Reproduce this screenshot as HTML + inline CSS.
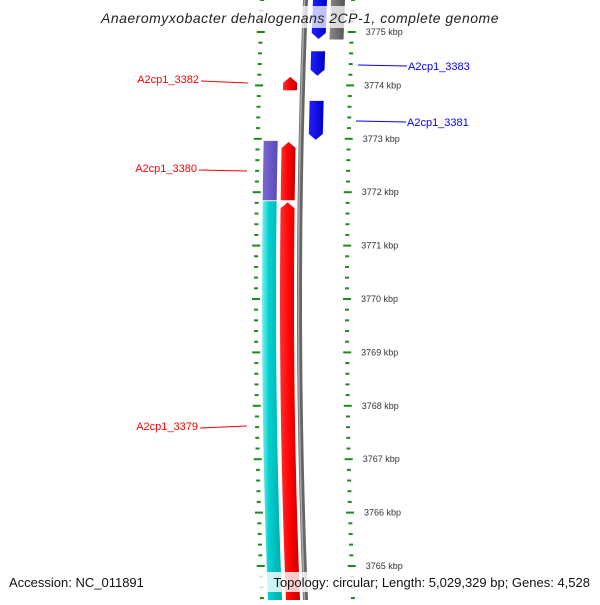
<!DOCTYPE html>
<html><head><meta charset="utf-8"><style>
body{margin:0;background:#fff;width:600px;height:600px;overflow:hidden;font-family:"Liberation Sans",sans-serif}
</style></head><body>
<svg id="map" width="600" height="600" viewBox="0 0 600 600">
<defs>
<linearGradient id="gcyan" x1="0" x2="1" y1="0" y2="0"><stop offset="0" stop-color="#7ff0f0"/><stop offset="0.35" stop-color="#00d0d0"/><stop offset="1" stop-color="#00a8a8"/></linearGradient>
<linearGradient id="gred" x1="0" x2="1" y1="0" y2="0"><stop offset="0" stop-color="#ff3030"/><stop offset="0.5" stop-color="#ff0000"/><stop offset="1" stop-color="#c00000"/></linearGradient>
<linearGradient id="gpurple" x1="0" x2="1"><stop offset="0" stop-color="#7a6ad8"/><stop offset="1" stop-color="#5a4ab8"/></linearGradient>
<linearGradient id="gblue" x1="0" x2="1"><stop offset="0" stop-color="#2020ff"/><stop offset="1" stop-color="#0000c8"/></linearGradient>
<linearGradient id="ggray" x1="0" x2="1"><stop offset="0" stop-color="#888"/><stop offset="1" stop-color="#555"/></linearGradient>
</defs>
<g id="marks"></g>
<g id="labels"></g>
</svg>
<script>
const tickKbp=[3765,3766,3767,3768,3769,3770,3771,3772,3773,3774,3775];
const tickLabels=["3765 kbp","3766 kbp","3767 kbp","3768 kbp","3769 kbp","3770 kbp","3771 kbp","3772 kbp","3773 kbp","3774 kbp","3775 kbp"];
const geneNames=["A2cp1_3380","A2cp1_3379","A2cp1_3380r","A2cp1_3379r","A2cp1_3382","A2cp1_3383a","A2cp1_3383","A2cp1_3381","gray-feature"];
const geneStart=[3772.96,3771.83,3772.94,3771.81,3774.16,3775.7,3774.64,3773.71,3775.62];
const geneEnd=[3771.85,3764.2,3771.85,3764.2,3773.91,3774.87,3774.18,3772.98,3774.86];
const geneTrack=[0,0,1,1,1,2,2,2,3];
const geneStrand=[0,0,1,1,1,-1,-1,-1,0];
const geneFill=["url(#gpurple)","url(#gcyan)","url(#gred)","url(#gred)","url(#gred)","url(#gblue)","url(#gblue)","url(#gblue)","url(#ggray)"];
const trackX=[262,280,307,325];const trackW=14;
const NS="http://www.w3.org/2000/svg";
function yOf(k){return 566-(k-3765)*53.4;}
function off(y){return (y-300)*(y-300)/15000;}
const marks=document.getElementById('marks'),labels=document.getElementById('labels');
function mk(tag,at,parent){const e=document.createElementNS(NS,tag);for(const k in at)e.setAttribute(k,at[k]);(parent||marks).appendChild(e);return e;}
// gray backbone
let d="";for(let y=-5;y<=605;y+=5){d+=(y==-5?"M":"L")+(299.5+off(y))+","+y;}
let bb=mk('path',{d:d,fill:"none",stroke:"#666","stroke-width":5});


mk('path',{d:d,fill:"none",stroke:"#aaa","stroke-width":1.5,transform:"translate(-1,0)"});
// genes
for(let i=0;i<geneNames.length;i++){
 const y1=Math.min(yOf(geneStart[i]),yOf(geneEnd[i])),y2=Math.max(yOf(geneStart[i]),yOf(geneEnd[i]));
 const x0=trackX[geneTrack[i]],s=geneStrand[i],h=6;
 let top=y1,bot=y2;if(s==1)top=y1+h;if(s==-1)bot=y2-h;
 let L=[],R=[];
 for(let y=top;y<=bot;y+=4){L.push([x0+off(y),y]);}
 L.push([x0+off(bot),bot]);
 for(const p of L)R.unshift([p[0]+trackW,p[1]]);
 let pts=[];
 if(s==1)pts.push([x0+trackW/2+off(y1),y1]);
 pts=pts.concat(L);
 if(s==-1)pts.push([x0+trackW/2+off(y2),y2]);
 pts=pts.concat(R);
 const g=mk('polygon',{points:pts.map(p=>p.join(",")).join(" "),fill:geneFill[i]});
 
 
}
// ticks
for(let k=3764;k<=3776;k+=0.2){
 const y=yOf(k);if(y<-5||y>605)continue;
 const major=Math.abs(k-Math.round(k))<0.01;
 const w=major?8:4;
 const xl=256+off(y),xr=347+off(y);
 const t1=mk('line',{x1:xl-w/2,x2:xl+w/2,y1:y,y2:y,stroke:"#1a8a1a","stroke-width":2});
 
 
 const t2=mk('line',{x1:xr-w/2,x2:xr+w/2,y1:y,y2:y,stroke:"#1a8a1a","stroke-width":2});
 
 
}
for(let i=0;i<tickKbp.length;i++){
 const y=yOf(tickKbp[i]);
 const t=mk('text',{x:361+off(y),y:y+3,"font-size":9,fill:"#333"},labels);
 t.textContent=tickLabels[i];
 
 
}
</script>
<svg width="600" height="600" style="position:absolute;left:0;top:0">
<rect x="92" y="6" width="416" height="22" fill="#fff" opacity="0.75"/>
<text x="300" y="23" text-anchor="middle" font-size="14" font-style="italic" fill="#222" letter-spacing="0.5">Anaeromyxobacter dehalogenans 2CP-1, complete genome</text>
<g font-size="11">
<line x1="201" y1="81" x2="248" y2="83" stroke="red"/>
<text x="199" y="83" text-anchor="end" fill="red">A2cp1_3382</text>
<line x1="199" y1="170" x2="247" y2="171" stroke="red"/>
<text x="197" y="172" text-anchor="end" fill="red">A2cp1_3380</text>
<line x1="200" y1="428" x2="247" y2="426" stroke="red"/>
<text x="198" y="430" text-anchor="end" fill="red">A2cp1_3379</text>
<line x1="358" y1="65" x2="407" y2="66" stroke="blue"/>
<text x="408" y="70" fill="blue">A2cp1_3383</text>
<line x1="356" y1="121" x2="406" y2="122" stroke="blue"/>
<text x="407" y="126" fill="blue">A2cp1_3381</text>
</g>
<text x="9" y="587" font-size="13" fill="#111">Accession: NC_011891</text>
<rect x="257" y="572" width="336" height="20" fill="#fff" opacity="0.8"/>
<text x="590" y="587" text-anchor="end" font-size="13" fill="#111">Topology: circular; Length: 5,029,329 bp; Genes: 4,528</text>
</svg>
</body></html>
